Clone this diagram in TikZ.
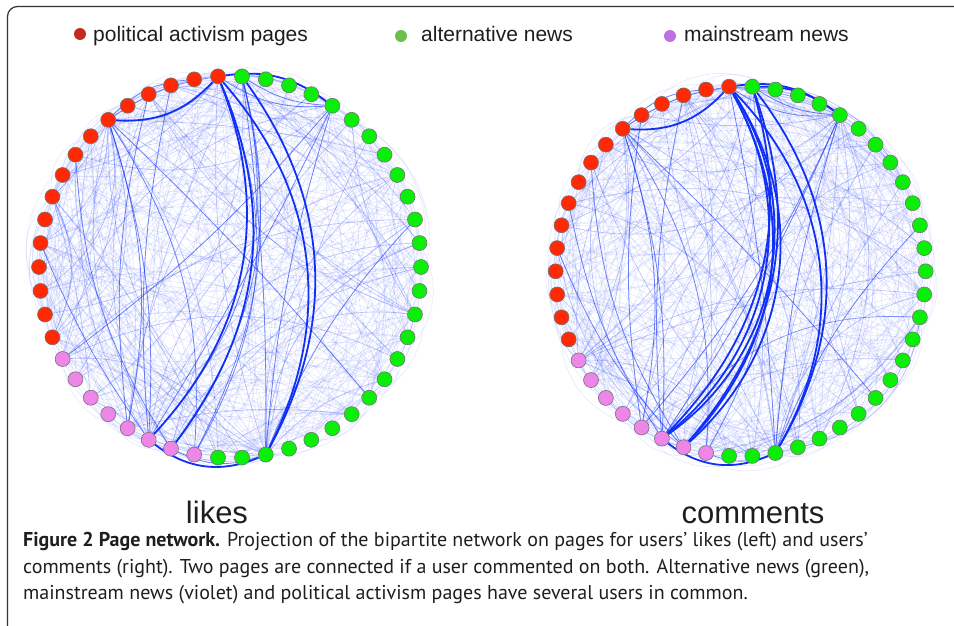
\documentclass[tikz,border=0pt]{standalone}
\usepackage{fontspec}
\setmainfont{PT Sans}
\newfontfamily\helv{Liberation Sans}
\pgfdeclarelayer{bg}
\pgfsetlayers{bg,main}
\definecolor{nred}{HTML}{FF2A05}
\definecolor{ngreen}{HTML}{0AEE0A}
\definecolor{npink}{HTML}{EE85E8}
\definecolor{lred}{HTML}{C22A1C}
\definecolor{lgreen}{HTML}{6CBF48}
\definecolor{lpink}{HTML}{BE6FE3}
\definecolor{eblue}{HTML}{1030F5}
\definecolor{framec}{HTML}{333333}
\definecolor{txt}{HTML}{1E1E1E}
\tikzset{
 pnode/.style={circle, minimum size=15pt, inner sep=0pt, draw=black!55, line width=0.6pt},
 faint/.style={draw=eblue, opacity=0.11, line width=0.6pt},
 medium/.style={draw=eblue, opacity=0.6, line width=0.8pt},
 heavy/.style={draw=eblue, line width=1.8pt},
 legdot/.style={circle, minimum size=12pt, inner sep=0pt},
 legtext/.style={anchor=base west, inner sep=0pt, font=\helv\fontsize{21}{24}\selectfont, text=txt},
 netlabel/.style={anchor=base, inner sep=0pt, font=\helv\fontsize{31}{36}\selectfont, text=txt},
 capt/.style={anchor=base west, inner sep=0pt, font=\fontsize{20}{23}\selectfont, text=txt},
}
\begin{document}
\begin{tikzpicture}[x=1pt,y=-1pt]
\useasboundingbox (0,0) rectangle (954,626);
\draw[framec, line width=1.2pt, rounded corners=10pt] (7.5,640) -- (7.5,6.5) -- (960,6.5);
% page nodes
\foreach \k in {0,...,49}{
  \pgfmathsetmacro\ang{86.4+7.2*\k}
  \ifnum\k=0 \def\col{ngreen}\else\ifnum\k<17 \def\col{nred}\else\ifnum\k<25 \def\col{npink}\else\def\col{ngreen}\fi\fi\fi
  \node[pnode, fill=\col] (L\k) at ({230+191*cos(\ang)},{267-191*sin(\ang)}) {};
  \node[pnode, fill=\col] (R\k) at ({740.7+185*cos(\ang)},{271.3-185*sin(\ang)}) {};
}
\begin{pgfonlayer}{bg}
\pgfmathsetseed{4242}
\foreach \n in {1,...,450}{
  \pgfmathtruncatemacro\a{random(0,49)}
  \pgfmathtruncatemacro\c{mod(\a+random(2,48),50)}
  \pgfmathtruncatemacro\b{random(8,40)}
  \draw[faint] (L\a) to[bend left=\b] (L\c);
}
\foreach \n in {1,...,450}{
  \pgfmathtruncatemacro\a{random(0,49)}
  \pgfmathtruncatemacro\c{mod(\a+random(2,48),50)}
  \pgfmathtruncatemacro\b{random(8,40)}
  \draw[faint] (R\a) to[bend left=\b] (R\c);
}
\foreach \n in {1,...,55}{
  \pgfmathtruncatemacro\a{{1,6,22,27,46,21,23,0,3,10,17,36}[random(0,11)]}
  \pgfmathtruncatemacro\c{mod(\a+random(4,46),50)}
  \pgfmathtruncatemacro\b{random(5,35)}
  \draw[medium, opacity=0.28, line width=0.7pt] (L\a) to[bend left=\b] (L\c);
}
\foreach \n in {1,...,55}{
  \pgfmathtruncatemacro\a{{1,6,22,27,46,21,23,0,3,10,17,36}[random(0,11)]}
  \pgfmathtruncatemacro\c{mod(\a+random(4,46),50)}
  \pgfmathtruncatemacro\b{random(5,35)}
  \draw[medium, opacity=0.28, line width=0.7pt] (R\a) to[bend left=\b] (R\c);
}
% medium edges, left
\foreach \a/\c/\b in {6/32/3, 6/22/10, 6/21/14, 6/24/18, 46/22/3, 46/17/6, 46/0/14, 46/1/18, 6/1/12, 27/46/6, 27/40/10, 22/3/8, 23/8/14, 0/27/4, 0/23/25, 0/22/28, 6/2/20, 27/23/22, 22/12/6, 21/4/10, 1/24/26, 0/24/20}
  \draw[medium] (L\a) to[bend left=\b] (L\c);
% heavy edges, left
\foreach \a/\c/\b in {1/27/34, 0/27/32, 1/22/32, 1/23/30, 27/22/30, 1/6/25, 1/46/22}
  \draw[heavy] (L\a) to[bend left=\b] (L\c);
% medium edges, right
\foreach \a/\c/\b in {6/32/3, 6/22/10, 6/21/14, 6/24/18, 46/22/5, 46/21/8, 46/0/14, 46/1/18, 6/1/12, 27/46/6, 27/40/10, 22/3/8, 23/8/14, 1/27/4, 0/24/22, 6/2/20, 27/24/20, 22/10/10, 21/5/8, 23/12/10}
  \draw[medium] (R\a) to[bend left=\b] (R\c);
% heavy edges, right
\foreach \a/\c/\b in {1/22/40, 1/22/44, 1/23/36, 1/23/41, 0/22/30, 0/23/30, 0/27/34, 1/27/37, 27/22/30, 1/6/25, 1/46/22, 0/46/18}
  \draw[heavy] (R\a) to[bend left=\b] (R\c);
\end{pgfonlayer}
% legend
\node[legdot, fill=lred] (d1) at (80,34) {};
\node[legtext] (t1) at (93,42) {political activism pages};
\node[legdot, fill=lgreen] (d2) at (401,36) {};
\node[legtext] (t2) at (421,42) {alternative news};
\node[legdot, fill=lpink] (d3) at (670,36) {};
\node[legtext] (t3) at (684,42) {mainstream news};
% labels
\node[netlabel] (likes) at (217,523) {likes};
\node[netlabel] (comments) at (753,523) {comments};
% caption
\node[capt] (c1) at (23,546) {\textbf{Figure 2 Page network.} Projection of the bipartite network on pages for users’ likes (left) and users’};
\node[capt] (c2) at (23,573) {comments (right). Two pages are connected if a user commented on both. Alternative news (green),};
\node[capt] (c3) at (23,599) {mainstream news (violet) and political activism pages have several users in common.};
\end{tikzpicture}
\end{document}
